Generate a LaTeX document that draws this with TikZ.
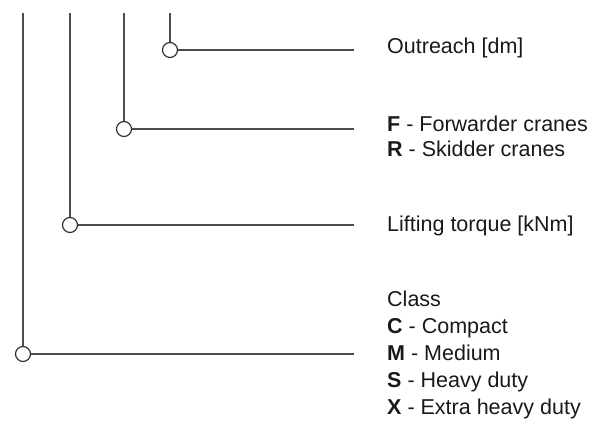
\documentclass[tikz,border=0pt]{standalone}
\usepackage{fontspec}
\setmainfont{Liberation Sans}
\begin{document}
\begin{tikzpicture}[x=1pt, y=-1pt,
    lead/.style={draw=black!70, line width=1.2pt},
    ring/.style={circle, draw=black!80, line width=1.2pt, fill=white, inner sep=0pt, minimum size=15pt},
    legtext/.style={anchor=base west, inner sep=0pt, align=left, text=black!90, font=\fontsize{21.5}{#1}\selectfont},
    legtext/.default=27]
    \useasboundingbox (0,0) rectangle (594,422);
    \def\topy{13}
    \def\endx{354}
    \def\textx{387}
    % rings on the leads
    \node[ring] (class) at (23,354) {};
    \node[ring] (torque) at (70,225) {};
    \node[ring] (type) at (124,129) {};
    \node[ring] (reach) at (170,50) {};
    % top ends of the leads
    \coordinate (classtop) at (23,\topy);
    \coordinate (torquetop) at (70,\topy);
    \coordinate (typetop) at (124,\topy);
    \coordinate (reachtop) at (170,\topy);
    % right ends of the leads
    \coordinate (classend) at (\endx,354);
    \coordinate (torqueend) at (\endx,225);
    \coordinate (typeend) at (\endx,129);
    \coordinate (reachend) at (\endx,50);
    \draw[lead] (classtop) -- (class.north);
    \draw[lead] (torquetop) -- (torque.north);
    \draw[lead] (typetop) -- (type.north);
    \draw[lead] (reachtop) -- (reach.north);
    \draw[lead] (class.east) -- (classend);
    \draw[lead] (torque.east) -- (torqueend);
    \draw[lead] (type.east) -- (typeend);
    \draw[lead] (reach.east) -- (reachend);
    % legend texts, anchored on the baseline of the last line
    \node[legtext] (reachtxt) at (\textx,54) {Outreach [dm]};
    \node[legtext=25] (typetxt) at (\textx,157) {\textbf{F} - Forwarder cranes\\\textbf{R} - Skidder cranes};
    \node[legtext] (torquetxt) at (\textx,231) {Lifting torque [kNm]};
    \node[legtext] (classtxt) at (\textx,414) {Class\\\textbf{C} - Compact\\\textbf{M} - Medium\\\textbf{S} - Heavy duty\\\textbf{X} - Extra heavy duty};
\end{tikzpicture}
\end{document}
